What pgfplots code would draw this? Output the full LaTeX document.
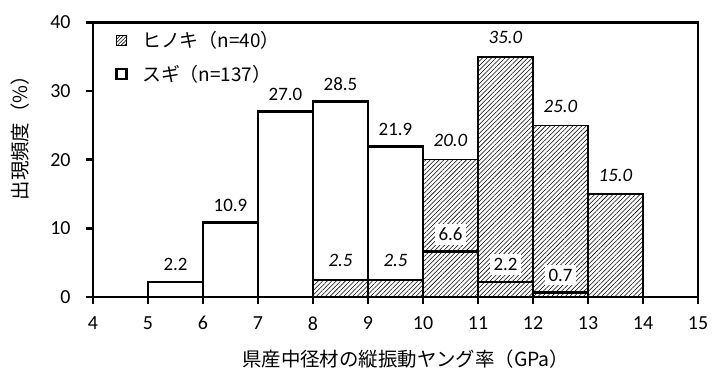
\documentclass[border=0pt]{standalone}
\usepackage{fontspec}
\setmainfont{Carlito}
\newfontfamily\jp{Noto Sans CJK JP}
\usepackage{pgfplots}
\pgfplotsset{compat=1.18}
\usetikzlibrary{patterns,patterns.meta}
\begin{document}
\begin{tikzpicture}
\begin{axis}[
  scale only axis,
  width=605bp, height=274.5bp,
  xmin=4, xmax=15, ymin=0, ymax=40,
  xtick={4,5,...,15}, ytick={0,10,...,40},
  axis line style={line width=2.6bp},
  major tick style={line width=2.6bp, black},
  major tick length=7bp,
  tick align=outside,
  tick pos=left,
  /pgf/number format/assume math mode=true,
  tick label style={font=\fontsize{20}{22}\selectfont},
  xticklabel style={yshift=-9bp},
  yticklabel style={xshift=-12bp},
  every axis x label/.style={at={(rel axis cs:0.517,0)}, yshift=-62bp, anchor=center},
  every axis y label/.style={at={(rel axis cs:0,0.597)}, xshift=-73bp, rotate=90, anchor=center},
  xlabel={\jp\fontsize{19.5}{20}\selectfont 県産中径材の縦振動ヤング率（GPa）},
  ylabel={\jp\fontsize{19.5}{20}\selectfont 出現頻度（\%）},
  legend style={at={(rel axis cs:0.03,0.975)}, anchor=north west, draw=none, fill=none,
    font=\jp\fontsize{19}{20}\selectfont, row sep=12bp, inner sep=0pt},
  legend cell align=left,
]
\coordinate (ll) at (rel axis cs:0,0);
\coordinate (ur) at (rel axis cs:1,1);
% Sugi white fill
\addplot[ybar, bar width=1, bar shift=0pt, fill=white, draw=none, forget plot]
  coordinates {(5.5,2.2) (6.5,10.9) (7.5,27.0) (8.5,28.5) (9.5,21.9) (10.5,6.6) (11.5,2.2) (12.5,0.7)};
% Hinoki hatched
\addplot[ybar, bar width=1, bar shift=0pt, pattern={Lines[angle=45,distance=3.2bp,line width=0.55bp]}, draw=black, line width=1.4bp,
  legend image code/.code={\draw[pattern={Lines[angle=45,distance=2.5bp,line width=0.6bp]}, draw=black, line width=1.2bp] (4bp,-5bp) rectangle (14bp,5bp); \path (0bp,0bp) (26bp,0bp);},
  nodes near coords={\pgfmathprintnumber[fixed,fixed zerofill,precision=1,assume math mode=true]{\pgfplotspointmeta}},
  nodes near coords style={font=\fontsize{19}{20}\selectfont\itshape, anchor=south, yshift=9bp, inner sep=3bp}]
  coordinates {(8.5,2.5) (9.5,2.5) (10.5,20.0) (11.5,35.0) (12.5,25.0) (13.5,15.0)};
\addlegendentry{ヒノキ（n=40）}
% Sugi outline
\addplot[ybar, bar width=1, bar shift=0pt, fill=none, draw=black, line width=2.8bp,
  legend image code/.code={\draw[fill=white, draw=black, line width=2.8bp] (4bp,-5bp) rectangle (14bp,5bp); \path (0bp,0bp) (26bp,0bp);},
  nodes near coords={\pgfmathprintnumber[fixed,fixed zerofill,precision=1,assume math mode=true]{\pgfplotspointmeta}},
  nodes near coords style={font=\fontsize{19}{20}\selectfont, anchor=south, yshift=7bp, inner sep=4bp, fill=white, line width=0pt}]
  coordinates {(5.5,2.2) (6.5,10.9) (7.5,27.0) (8.5,28.5) (9.5,21.9) (10.5,6.6) (11.5,2.2) (12.5,0.7)};
\addlegendentry{スギ（n=137）}
\end{axis}
\pgfresetboundingbox
\path ([shift={(-93bp,-85bp)}]ll) rectangle ([shift={(21bp,22.5bp)}]ur);
\end{tikzpicture}
\end{document}
